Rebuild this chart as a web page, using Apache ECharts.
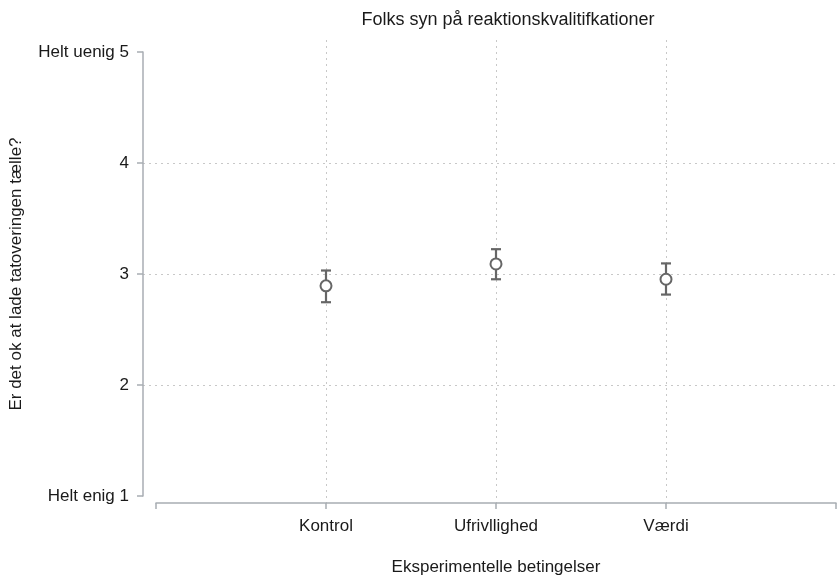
<!DOCTYPE html>
<html>
<head>
<meta charset="utf-8">
<script src="https://cdn.jsdelivr.net/npm/echarts@6/dist/echarts.min.js"></script>
<style>
	html, body { margin: 0; padding: 0; background: #fff; }
	#chart { width: 839px; height: 581px; }
</style>
</head>
<body>
<div id="chart"></div>
<script>
	// data
	var categories = ['Kontrol', 'Ufrivllighed', 'Værdi']
	var means = [2.86, 3.06, 2.92]
	var lower = [2.71, 2.92, 2.78]
	var upper = [3.00, 3.195, 3.065]
	var yTickLabels = ['Helt enig 1', '2', '3', '4', 'Helt uenig 5']

	var font = '"Liberation Sans", Arial, sans-serif'
	var textColor = '#1a1a1a'
	var markColor = '#666666'
	var axisColor = '#a8adb3'

	// y axis box: 1..5 between y=52 and y=496; plot box is a bit taller (40..510)
	var yTop = 52, yBottom = 496, plotTop = 40, plotBottom = 510
	var pxPerUnit = (yBottom - yTop) / 4
	var plotMin = 1 - (plotBottom - yBottom) / pxPerUnit
	var plotMax = 5 + (yTop - plotTop) / pxPerUnit

	var points = categories.map(function (c, i) { return [i + 1, means[i]] })
	var bars = categories.map(function (c, i) { return [i + 1, lower[i], upper[i]] })

	var chart = echarts.init(document.getElementById('chart'))
	chart.setOption({
		animation: false,
		title: {
			text: 'Folks syn på reaktionskvalitifkationer',
			left: 503,
			top: 6,
			textAlign: 'center',
			textStyle: { color: textColor, fontSize: 18, fontWeight: 'normal', fontFamily: font }
		},
		grid: [
			{ left: 142, right: 0, top: yTop, bottom: 581 - yBottom },
			{ left: 156, right: -3, top: plotTop, bottom: 581 - plotBottom }
		],
		xAxis: [
			{ gridIndex: 0, type: 'value', min: 0, max: 1, show: false },
			{
				gridIndex: 1, type: 'value', min: 0, max: 4, interval: 1,
				name: 'Eksperimentelle betingelser',
				nameLocation: 'middle',
				nameGap: 56,
				nameTextStyle: { color: textColor, fontSize: 17, fontFamily: font },
				axisLine: { lineStyle: { color: axisColor, width: 1.5 } },
				axisTick: { length: 6, lineStyle: { color: axisColor, width: 1.5 } },
				axisLabel: {
					margin: 15, color: textColor, fontSize: 17, fontFamily: font,
					formatter: function (v) { return categories[v - 1] || '' }
				},
				splitLine: {
					show: true, showMinLine: false, showMaxLine: false,
					lineStyle: { color: '#c8c8c8', type: [2, 4], width: 1 }
				}
			}
		],
		yAxis: [
			{
				gridIndex: 0, type: 'value', min: 1, max: 5, interval: 1,
				name: 'Er det ok at lade tatoveringen tælle?',
				nameLocation: 'middle',
				nameGap: 118,
				nameTextStyle: { color: textColor, fontSize: 17, fontFamily: font },
				axisLine: { show: true, lineStyle: { color: axisColor, width: 1.5 } },
				axisTick: { show: true, length: 6, lineStyle: { color: axisColor, width: 1.5 } },
				axisLabel: {
					margin: 14, color: textColor, fontSize: 17, fontFamily: font,
					formatter: function (v) { return yTickLabels[v - 1] }
				},
				splitLine: {
					show: true, showMinLine: false, showMaxLine: false,
					lineStyle: { color: '#c8c8c8', type: [2, 4], width: 1 }
				}
			},
			{ gridIndex: 1, type: 'value', min: plotMin, max: plotMax, show: false }
		],
		series: [
			{
				type: 'custom',
				xAxisIndex: 1,
				yAxisIndex: 1,
				data: bars,
				renderItem: function (params, api) {
					var lo = api.coord([api.value(0), api.value(1)])
					var hi = api.coord([api.value(0), api.value(2)])
					var cap = 5
					var style = { stroke: markColor, lineWidth: 2.2 }
					return {
						type: 'group',
						children: [
							{ type: 'line', shape: { x1: lo[0], y1: lo[1], x2: hi[0], y2: hi[1] }, style: style },
							{ type: 'line', shape: { x1: lo[0] - cap, y1: lo[1], x2: lo[0] + cap, y2: lo[1] }, style: style },
							{ type: 'line', shape: { x1: hi[0] - cap, y1: hi[1], x2: hi[0] + cap, y2: hi[1] }, style: style }
						]
					}
				}
			},
			{
				type: 'scatter',
				xAxisIndex: 1,
				yAxisIndex: 1,
				data: points,
				symbol: 'circle',
				symbolSize: 11,
				z: 3,
				itemStyle: { color: '#fff', borderColor: markColor, borderWidth: 2, opacity: 1 }
			}
		]
	})
</script>
</body>
</html>
